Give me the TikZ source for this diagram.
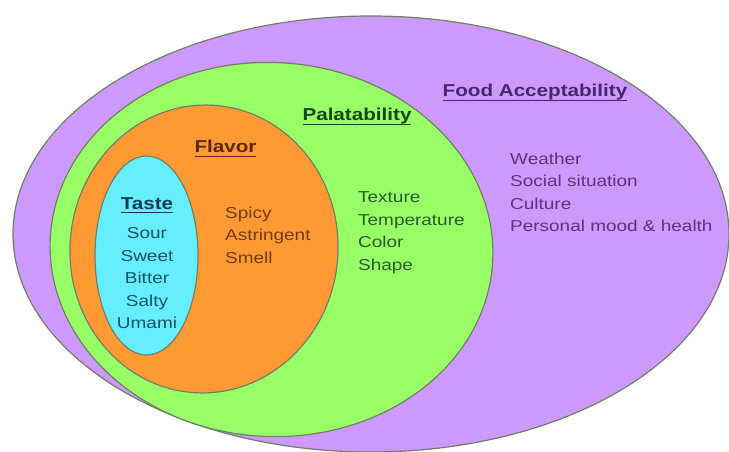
\documentclass[tikz,border=0pt]{standalone}
\usepackage{fontspec}
\setmainfont{Liberation Sans}[FakeStretch=1.2]

\definecolor{ringline}{RGB}{112,128,100}
\definecolor{accfill}{RGB}{204,153,255}
\definecolor{palfill}{RGB}{153,255,102}
\definecolor{flvfill}{RGB}{255,153,51}
\definecolor{tstfill}{RGB}{102,238,255}
\definecolor{acctext}{RGB}{72,38,108}
\definecolor{acclist}{RGB}{92,54,124}
\definecolor{paltext}{RGB}{24,68,24}
\definecolor{pallist}{RGB}{40,92,40}
\definecolor{flvtext}{RGB}{90,40,12}
\definecolor{flvlist}{RGB}{112,60,22}
\definecolor{tsttext}{RGB}{12,60,80}
\definecolor{tstlist}{RGB}{22,82,104}

% underlined heading text
\newcommand\headul[1]{\leavevmode\setbox0\hbox{#1}\rlap{\vrule width\wd0 height -2.6pt depth 4pt}\box0}

\tikzset{
  ring/.style={draw=ringline, line width=1.2pt},
  heading/.style={font=\fontsize{17.2}{20}\selectfont\bfseries, inner sep=0pt, anchor=base},
  itemlist/.style={font=\fontsize{15.8}{22.5}\selectfont, inner sep=0pt, align=left, anchor=north west},
}

\begin{document}
\begin{tikzpicture}[x=1pt, y=-1pt]
    \useasboundingbox (0,0) rectangle (729,452);
    % nested regions, outermost first
    \draw[ring, fill=accfill] (371,234) ellipse [x radius=358, y radius=218];
    \draw[ring, fill=palfill, rotate around={-3:(271.5,249.5)}] (271.5,249.5) ellipse [x radius=221.5, y radius=187];
    \draw[ring, fill=flvfill, rotate around={-5:(204,249)}] (204,249) ellipse [x radius=134, y radius=144];
    \draw[ring, fill=tstfill] (146.5,255.5) ellipse [x radius=51.5, y radius=99.5];
    % headings
    \node[heading, text=acctext] (accept) at (535,97) {\headul{Food Acceptability}};
    \node[heading, text=paltext] (palat) at (357,121) {\headul{Palatability}};
    \node[heading, text=flvtext] (flavor) at (225.5,153) {\headul{Flavor}};
    \node[heading, text=tsttext] (taste) at (147,209) {\headul{Taste}};
    % factors
    \node[itemlist, text=acclist] (acceptitems) at (510,152.5) {Weather\\Social situation\\Culture\\Personal mood \& health};
    \node[itemlist, text=pallist] (palatitems) at (358,191.5) {Texture\\Temperature\\Color\\Shape};
    \node[itemlist, text=flvlist] (flavoritems) at (225,206.5) {Spicy\\Astringent\\Smell};
    \node[itemlist, anchor=north, align=center, text=tstlist] (tasteitems) at (147,227.5) {Sour\\Sweet\\Bitter\\Salty\\Umami};
\end{tikzpicture}
\end{document}
